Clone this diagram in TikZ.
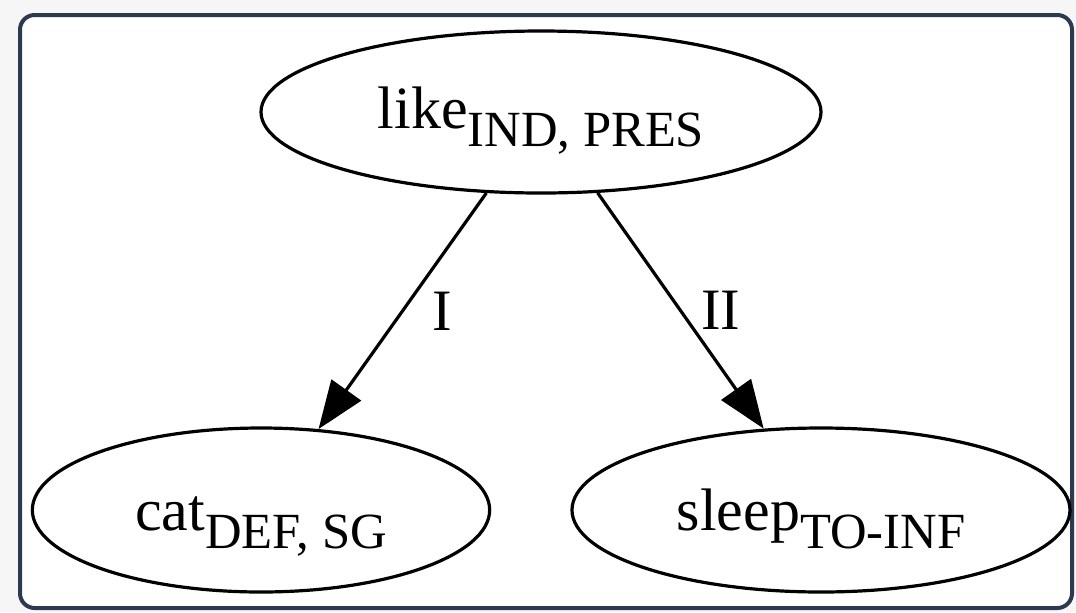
\documentclass[tikz,border=0pt]{standalone}
\usepackage{fontspec}
\setmainfont{Liberation Serif}
\usepackage{xcolor}
\usepackage{tikz}
\usetikzlibrary{positioning, shapes, arrows.meta}

\definecolor{pagegray}{HTML}{F6F6F6}
\definecolor{framenavy}{HTML}{2B3A4F}
\newcommand{\lexform}[2]{#1\raisebox{-13.5pt}{\fontsize{38}{46}\selectfont #2}}

\begin{document}
\begin{tikzpicture}[x=0.75pt, y=-0.75pt, >={Triangle[length=36pt, width=27pt]},
    lexnode/.style={draw, ellipse, line width=2.4pt, inner sep=0pt, text height=31pt,
      font=\fontsize{45}{54}\selectfont},
    rel/.style={->, line width=2.4pt},
    rellabel/.style={font=\fontsize{44}{53}\selectfont, inner sep=0pt, pos=0.5, xshift=30pt}]
    % Page and frame
    \useasboundingbox (0,0) rectangle (1076,612);
    \fill[pagegray] (0,0) rectangle (1076,612);
    \draw[framenavy, line width=3pt, fill=white, rounded corners=11pt] (20,15) rectangle (1072,608);
    % Head node
    \node[lexnode, minimum width=420pt, minimum height=121.5pt, text depth=7pt] (like) at (541,112) {\lexform{like}{IND, PRES}};
    % Dependent nodes
    \node[lexnode, minimum width=343pt, minimum height=123pt, text depth=1pt] (cat) at (261,510) {\lexform{cat}{DEF, SG}};
    \node[lexnode, minimum width=373.5pt, minimum height=123pt, text depth=1pt] (sleep) at (821,510) {\lexform{sleep}{TO-INF}};
    % Connections: head to actants
    \draw[rel] (like.236) -- node[rellabel] {I} (cat);
    \draw[rel] (like.305) -- node[rellabel] {II} (sleep);
\end{tikzpicture}
\end{document}
